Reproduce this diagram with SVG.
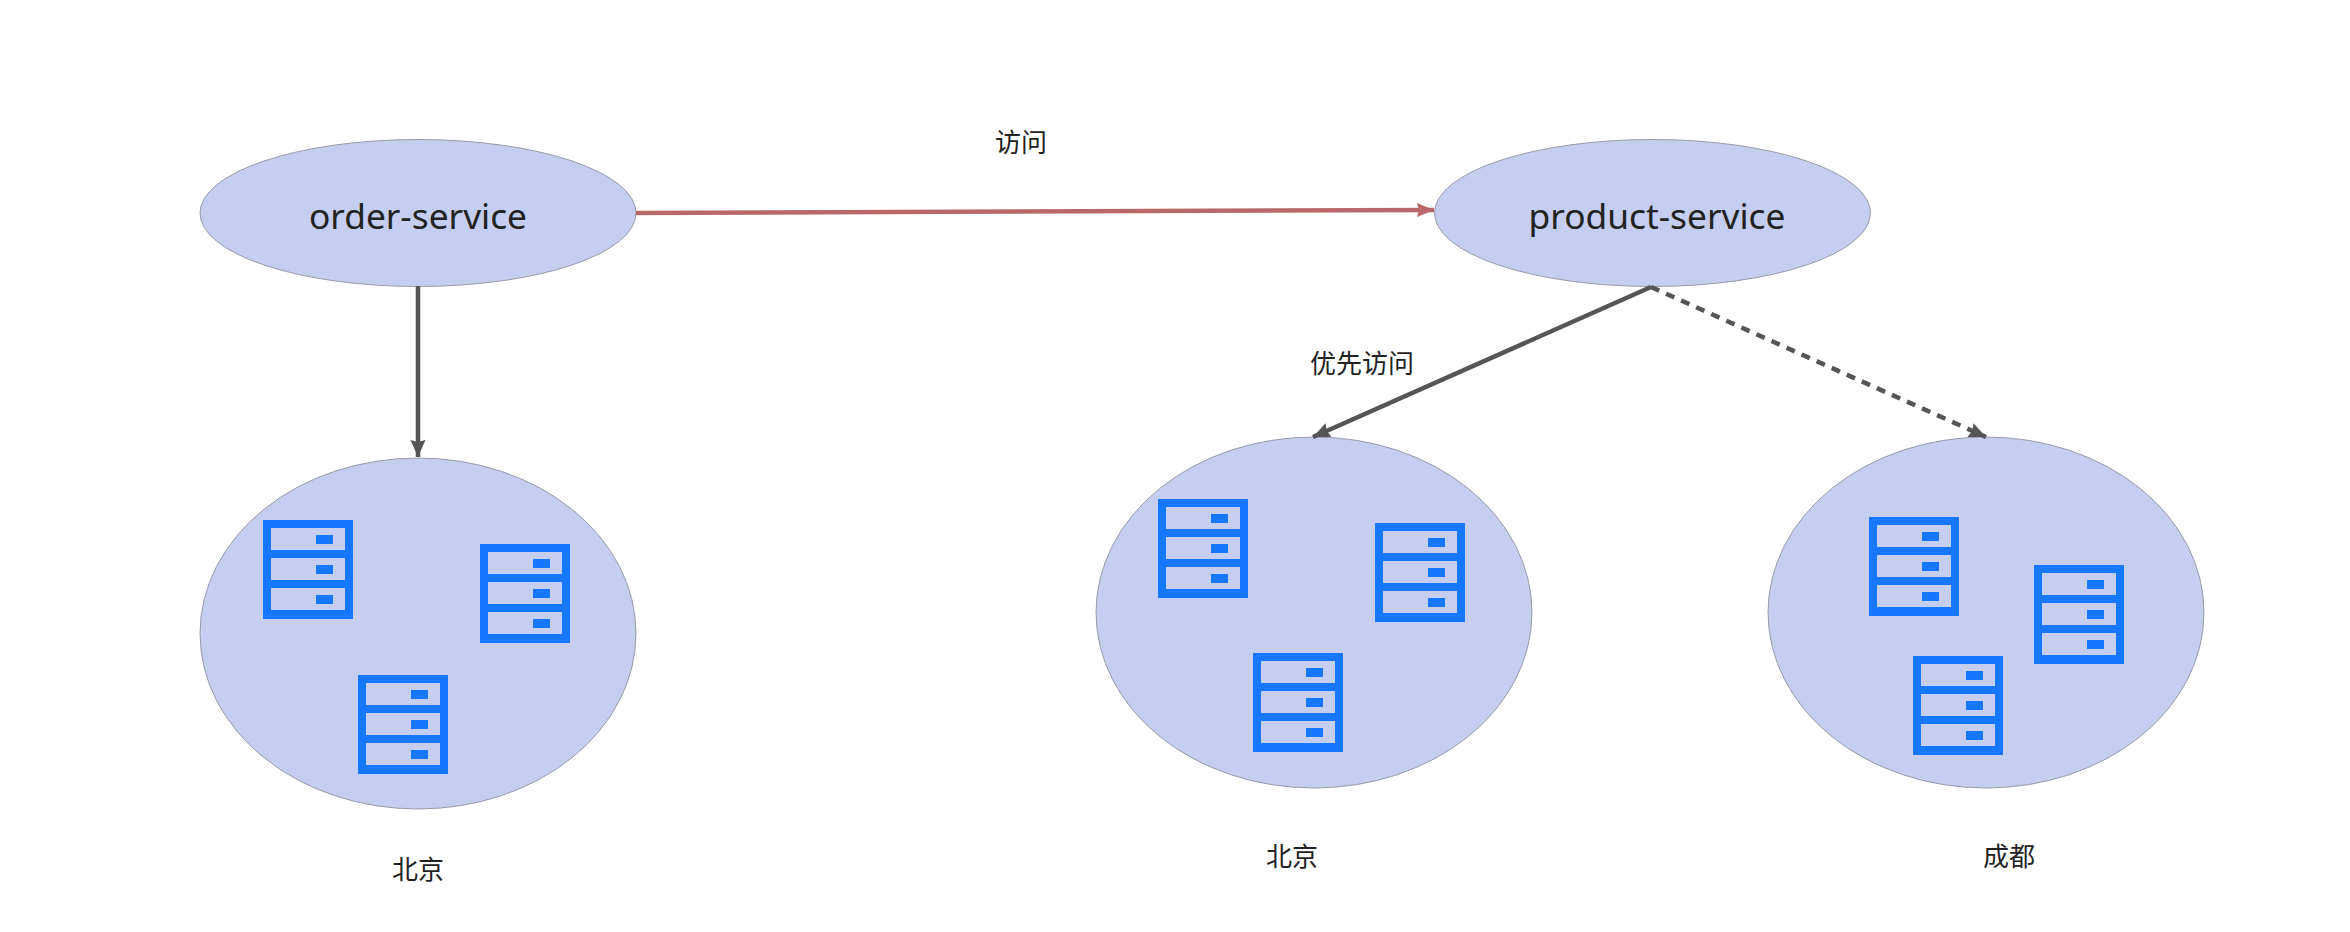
<svg xmlns="http://www.w3.org/2000/svg" xmlns:xlink="http://www.w3.org/1999/xlink" width="2350" height="932" viewBox="0 0 2350 932">
<style>
.e{fill:#c5cdf0;stroke:#9a9aa8;stroke-width:1}
.lbl{font-family:"Noto Sans","Noto Sans CJK SC",sans-serif;font-size:35.300px;fill:#222;text-anchor:middle}
.cn{font-family:"Noto Sans CJK SC","Liberation Sans",sans-serif;font-size:26px;fill:#222;text-anchor:middle}
.g{fill:none;stroke:#555;stroke-width:4.500}
.r{fill:none;stroke:#b86868;stroke-width:4.500}
</style>
<defs>
<marker id="ag" markerUnits="userSpaceOnUse" markerWidth="20" markerHeight="16" refX="17" refY="8" orient="auto"><path d="M0 0.500L17 8L0 15.500L2 8Z" fill="#555"/></marker>
<marker id="ar" markerUnits="userSpaceOnUse" markerWidth="20" markerHeight="16" refX="17" refY="8" orient="auto"><path d="M0 1L17 8L0 15L2 8Z" fill="#b86868"/></marker>
<g id="srv">
<path fill="#1677ff" fill-rule="evenodd" d="M0 0H90V99H0ZM8 8V30H82V8ZM8 38V60H82V38ZM8 68V90H82V68Z"/>
<rect x="53" y="15" width="17" height="9" fill="#1677ff"/>
<rect x="53" y="45" width="17" height="9" fill="#1677ff"/>
<rect x="53" y="75" width="17" height="9" fill="#1677ff"/>
</g>
</defs>
<rect width="2350" height="932" fill="#fff"/>
<g id="order-service"><ellipse class="e" cx="418" cy="213" rx="218" ry="73.500"/><text class="lbl" x="418" y="229">order-service</text></g>
<g id="product-service"><ellipse class="e" cx="1652.500" cy="213" rx="218" ry="73.500"/><text class="lbl" x="1657" y="229">product-service</text></g>
<g id="cluster-order-beijing"><ellipse class="e" cx="418" cy="633.500" rx="218" ry="175.500"/>
<use xlink:href="#srv" x="263" y="520"/><use xlink:href="#srv" x="480" y="544"/><use xlink:href="#srv" x="358" y="675"/></g>
<g id="cluster-product-beijing"><ellipse class="e" cx="1314" cy="612.500" rx="218" ry="175.500"/>
<use xlink:href="#srv" x="1158" y="499"/><use xlink:href="#srv" x="1375" y="523"/><use xlink:href="#srv" x="1253" y="653"/></g>
<g id="cluster-product-chengdu"><ellipse class="e" cx="1986" cy="612.500" rx="218" ry="175.500"/>
<use xlink:href="#srv" x="1869" y="517"/><use xlink:href="#srv" x="2034" y="565"/><use xlink:href="#srv" x="1913" y="656"/></g>
<g id="connectors">
<line class="r" x1="636" y1="213" x2="1434" y2="210" marker-end="url(#ar)"/>
<line class="g" x1="418" y1="286" x2="418" y2="457" marker-end="url(#ag)"/>
<line class="g" x1="1651" y1="287" x2="1313" y2="437" marker-end="url(#ag)"/>
<line class="g" x1="1651" y1="287" x2="1986" y2="437" stroke-dasharray="9 7.500" marker-end="url(#ag)"/>
</g>
<g id="labels">
<text class="cn" x="1021" y="152">访问</text>
<text class="cn" x="1362" y="373">优先访问</text>
<text class="cn" x="418" y="879">北京</text>
<text class="cn" x="1292" y="866">北京</text>
<text class="cn" x="2009" y="866">成都</text>
</g>
</svg>
